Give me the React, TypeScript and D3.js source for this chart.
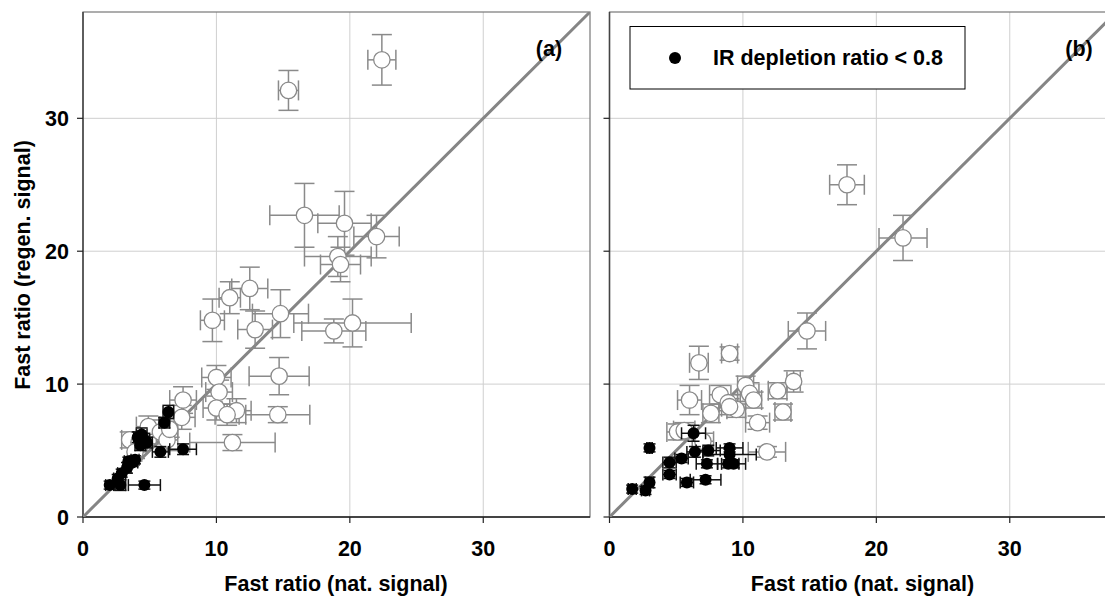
import React from "react";
import * as d3 from "d3";

// [x, y, xErr, yErr]
const panelAOpen: number[][] = [
  [15.4, 32.1, 0.75, 1.5],
  [22.4, 34.4, 1.05, 1.9],
  [16.6, 22.7, 2.6, 2.4],
  [19.6, 22.1, 2.0, 2.4],
  [22.0, 21.1, 1.7, 1.6],
  [19.1, 19.6, 2.5, 1.5],
  [19.3, 19.0, 1.5, 1.3],
  [12.5, 17.2, 1.35, 1.6],
  [11.0, 16.5, 0.8, 1.2],
  [9.7, 14.8, 0.9, 1.6],
  [14.8, 15.3, 2.1, 1.8],
  [12.9, 14.1, 1.3, 1.4],
  [18.8, 14.0, 2.4, 0.9],
  [20.2, 14.6, 4.4, 1.8],
  [14.7, 10.6, 2.25, 1.4],
  [10.0, 10.5, 1.1, 0.9],
  [10.2, 9.4, 1.0, 0.9],
  [10.0, 8.2, 1.0, 0.9],
  [11.5, 8.0, 1.1, 0.9],
  [10.8, 7.7, 0.9, 0.8],
  [14.6, 7.7, 2.4, 0.6],
  [11.2, 5.6, 3.2, 0.6],
  [7.5, 8.8, 1.0, 1.0],
  [7.4, 7.5, 1.0, 0.9],
  [4.9, 6.8, 0.9, 0.8],
  [5.8, 6.4, 0.9, 0.9],
  [6.3, 5.8, 0.8, 0.8],
  [3.5, 5.8, 0.6, 0.6],
  [4.2, 5.6, 0.6, 0.7],
  [3.9, 4.9, 0.5, 0.5],
  [6.5, 6.6, 0.6, 0.6],
];

const panelAFilled: number[][] = [
  [2.0, 2.4, 0.3, 0.3],
  [2.8, 2.4, 0.4, 0.4],
  [2.6, 2.9, 0.3, 0.3],
  [2.9, 3.3, 0.3, 0.3],
  [3.3, 3.7, 0.3, 0.4],
  [3.7, 4.1, 0.4, 0.3],
  [3.4, 4.2, 0.3, 0.3],
  [3.9, 4.3, 0.3, 0.3],
  [4.6, 2.4, 1.2, 0.3],
  [4.3, 5.4, 0.4, 0.4],
  [4.6, 5.8, 0.4, 0.5],
  [4.4, 6.2, 0.4, 0.5],
  [4.1, 6.0, 0.3, 0.4],
  [4.8, 5.6, 0.4, 0.4],
  [5.8, 4.9, 0.6, 0.4],
  [7.5, 5.1, 1.0, 0.4],
  [6.4, 7.9, 0.4, 0.5],
  [6.1, 7.1, 0.4, 0.4],
];

const panelBOpen: number[][] = [
  [17.8, 25.0, 1.3, 1.5],
  [22.0, 21.0, 1.8, 1.7],
  [14.8, 14.0, 1.4, 1.35],
  [6.7, 11.6, 0.7, 1.25],
  [9.0, 12.3, 0.6, 0.5],
  [10.2, 9.9, 0.6, 0.7],
  [13.8, 10.2, 0.5, 0.8],
  [12.6, 9.5, 0.7, 0.6],
  [6.0, 8.8, 0.9, 1.1],
  [8.3, 9.2, 0.8, 0.7],
  [10.5, 9.3, 0.7, 0.8],
  [8.9, 8.6, 0.7, 0.6],
  [9.5, 8.1, 0.7, 0.6],
  [13.0, 7.9, 0.6, 0.6],
  [11.1, 7.1, 0.9, 0.5],
  [7.6, 7.8, 0.6, 0.7],
  [5.1, 6.4, 0.8, 0.6],
  [5.6, 6.5, 0.8, 0.6],
  [7.0, 5.7, 0.8, 0.6],
  [11.8, 4.9, 1.4, 0.4],
  [9.0, 8.3, 0.6, 0.6],
  [10.8, 8.8, 0.6, 0.6],
];

const panelBFilled: number[][] = [
  [3.0, 5.2, 0.2, 0.3],
  [6.3, 6.3, 0.9, 0.6],
  [6.4, 4.9, 0.6, 0.4],
  [7.4, 5.0, 0.9, 0.4],
  [9.0, 5.2, 1.0, 0.3],
  [9.0, 4.7, 2.0, 0.4],
  [5.4, 4.4, 0.5, 0.3],
  [4.5, 4.1, 0.5, 0.4],
  [7.3, 4.0, 0.8, 0.3],
  [8.9, 4.0, 0.8, 0.3],
  [9.3, 4.0, 0.9, 0.3],
  [4.5, 3.2, 0.5, 0.3],
  [5.8, 2.6, 0.5, 0.3],
  [7.2, 2.8, 1.15, 0.3],
  [3.0, 2.6, 0.3, 0.4],
  [1.7, 2.1, 0.3, 0.3],
  [2.7, 2.0, 0.3, 0.3],
];

const tickValues = [0, 10, 20, 30];
const domainMax = 38;
const xTitle = "Fast ratio (nat. signal)";
const yTitle = "Fast ratio (regen. signal)";
const legendLabel = "IR depletion ratio < 0.8";

const FONT = "'Liberation Sans', Arial, sans-serif";
const FS = 21.5;
const TOP = 12;
const H = 505;
const W = 507;

function ErrBars({ d, x, y, color, cap, sw }: any) {
  const [vx, vy, ex, ey] = d;
  const cx = x(vx), cy = y(vy);
  const x0 = x(vx - ex), x1 = x(vx + ex);
  const y0 = y(vy - ey), y1 = y(vy + ey);
  return (
    <g stroke={color} strokeWidth={sw} fill="none">
      <line x1={x0} x2={x1} y1={cy} y2={cy} />
      <line x1={x0} x2={x0} y1={cy - cap} y2={cy + cap} />
      <line x1={x1} x2={x1} y1={cy - cap} y2={cy + cap} />
      <line x1={cx} x2={cx} y1={y0} y2={y1} />
      <line x1={cx - cap} x2={cx + cap} y1={y0} y2={y0} />
      <line x1={cx - cap} x2={cx + cap} y1={y1} y2={y1} />
    </g>
  );
}

function Panel({ left, open, filled, label, labelX, showYLabels, id }: any) {
  const x = d3.scaleLinear().domain([0, domainMax]).range([left, left + W]);
  const y = d3.scaleLinear().domain([0, domainMax]).range([TOP + H, TOP]);
  const line = d3.line<number>().x((v) => x(v)).y((v) => y(v));
  return (
    <g>
      <defs>
        <clipPath id={id}>
          <rect x={left} y={TOP} width={W} height={H} />
        </clipPath>
      </defs>
      {tickValues.slice(1).map((t) => (
        <g key={"g" + t} stroke="#cfcfcf" strokeWidth={1}>
          <line x1={x(t)} x2={x(t)} y1={TOP} y2={TOP + H} />
          <line x1={left} x2={left + W} y1={y(t)} y2={y(t)} />
        </g>
      ))}
      <rect x={left} y={TOP} width={W} height={H} fill="none" stroke="#777" strokeWidth={1.2} />
      <line x1={left} x2={left} y1={TOP} y2={TOP + H} stroke="#444" strokeWidth={1.5} />
      <line x1={left} x2={left + W} y1={TOP + H} y2={TOP + H} stroke="#222" strokeWidth={1.5} />
      <path d={line([0, domainMax]) || ""} stroke="#858585" strokeWidth={3} fill="none" clipPath={`url(#${id})`} />
      {open.map((d: number[], i: number) => (
        <ErrBars key={"oe" + i} d={d} x={x} y={y} color="#8a8a8a" cap={10} sw={1.5} />
      ))}
      {open.map((d: number[], i: number) => (
        <circle key={"oc" + i} cx={x(d[0])} cy={y(d[1])} r={8.2} fill="#fff" stroke="#8a8a8a" strokeWidth={1.3} />
      ))}
      {filled.map((d: number[], i: number) => (
        <ErrBars key={"fe" + i} d={d} x={x} y={y} color="#111" cap={6} sw={1.5} />
      ))}
      {filled.map((d: number[], i: number) => (
        <circle key={"fc" + i} cx={x(d[0])} cy={y(d[1])} r={6} fill="#000" />
      ))}
      {tickValues.map((t) => (
        <g key={"t" + t}>
          <line x1={x(t)} x2={x(t)} y1={TOP + H} y2={TOP + H + 6} stroke="#222" strokeWidth={1.2} />
          <text x={x(t)} y={TOP + H + 39} textAnchor="middle" fontFamily={FONT} fontWeight="bold" fontSize={FS} fill="#000">
            {t}
          </text>
          <line x1={left - 6} x2={left} y1={y(t)} y2={y(t)} stroke="#222" strokeWidth={1.2} />
          {showYLabels && (
            <text x={left - 14} y={y(t) + 7.5} textAnchor="end" fontFamily={FONT} fontWeight="bold" fontSize={FS} fill="#000">
              {t}
            </text>
          )}
        </g>
      ))}
      <text x={left + 253} y={591} textAnchor="middle" fontFamily={FONT} fontWeight="bold" fontSize={FS} fill="#000">
        {xTitle}
      </text>
      <text x={labelX} y={56} textAnchor="middle" fontFamily={FONT} fontWeight="bold" fontSize={FS} fill="#000">
        {label}
      </text>
    </g>
  );
}

export default function App() {
  return (
    <svg width={1105} height={600} style={{ position: "absolute", left: 0, top: 0, background: "#fff" }}>
      <rect x={0} y={0} width={1105} height={600} fill="#fff" />
      <Panel id="clipA" left={83} open={panelAOpen} filled={panelAFilled} label="(a)" labelX={549} showYLabels />
      <Panel id="clipB" left={609.5} open={panelBOpen} filled={panelBFilled} label="(b)" labelX={1079} showYLabels={false} />
      <text
        transform={`translate(30,265) rotate(-90)`}
        textAnchor="middle"
        fontFamily={FONT}
        fontWeight="bold"
        fontSize={FS}
        fill="#000"
      >
        {yTitle}
      </text>
      <rect x={630} y={26.5} width={335} height={62.5} fill="#fff" stroke="#000" strokeWidth={1} />
      <circle cx={675} cy={58} r={6} fill="#000" />
      <text x={713} y={65} fontFamily={FONT} fontWeight="bold" fontSize={FS} fill="#000">
        {legendLabel}
      </text>
    </svg>
  );
}
